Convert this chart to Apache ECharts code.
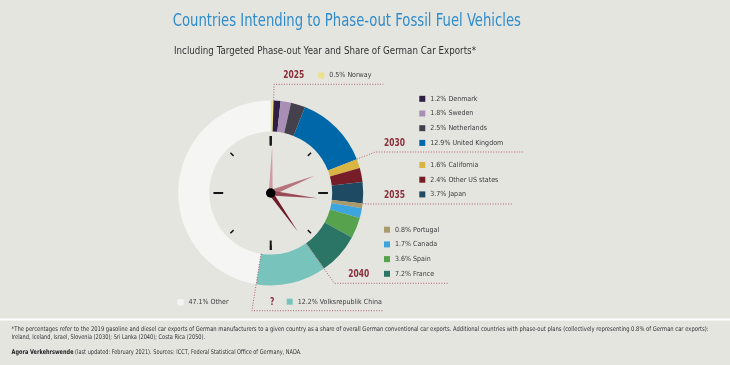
<!DOCTYPE html>
<html><head><meta charset="utf-8">
<script src="https://cdn.jsdelivr.net/npm/echarts@6/dist/echarts.min.js"></script>
<style>html,body{margin:0;padding:0;background:#e5e5e0}#c{width:730px;height:365px}</style>
</head><body><div id="c"></div>
<script>
// ---- data ----
const countries = ['Norway','Denmark','Sweden','Netherlands','United Kingdom','California','Other US states','Japan','Portugal','Canada','Spain','France','Volksrepublik China','Other'];
const shares = [0.5,1.2,1.8,2.5,12.9,1.6,2.4,3.7,0.8,1.7,3.6,7.2,12.2,47.1];
const phaseOutYear = ['2025','2030','2030','2030','2030','2035','2035','2035','2040','2040','2040','2040','?',''];
const colors = ['#efe08c','#2e1f44','#a98fb6','#44414c','#0068a8','#d9b543','#761d28','#1e4a63','#ab9a6a','#3da5de','#57a24c','#2a7565','#79c3bd','#f5f5f3'];
const yearLabels = ['2025','2030','2035','2040','?'];
const handColors = ['#d09ca3','#b8747e','#9b4b58','#6e1b28'];
const titleText = 'Countries Intending to Phase-out Fossil Fuel Vehicles';
const subtitleText = 'Including Targeted Phase-out Year and Share of German Car Exports*';
const note1 = '*The percentages refer to the 2019 gasoline and diesel car exports of German manufacturers to a given country as a share of overall German conventional car exports. Additional countries with phase-out plans (collectively representing 0.8% of German car exports):';
const note2 = 'Ireland, Iceland, Israel, Slovenia (2030); Sri Lanka (2040); Costa Rica (2050).';
const sourceBold = 'Agora Verkehrswende';
const sourceRest = ' (last updated: February 2021). Sources: ICCT, Federal Statistical Office of Germany, NADA.';

// ---- layout ----
const FONT = "'Liberation Sans Narrow','DejaVu Sans Condensed',sans-serif";
const mctx = document.createElement('canvas').getContext('2d');
function textW(t, font){ mctx.font = font; return mctx.measureText(t).width; }
const cx = 270.7, cy = 193, rIn = 61.5, rOut = 92.5;
const total = shares.reduce((a,b)=>a+b,0);
const cum = []; shares.reduce((a,b,i)=>(cum[i]=a+b),0);
const yearCum = yearLabels.map(y => cum[phaseOutYear.lastIndexOf(y)]);
const leaderStartR = [rOut, rOut, rOut, rIn, rIn];
const leaderY = [84.3, 152, 204, 283.3, 310.7];
const leaderEndX = [383.3, 523, 513, 448.3, 383.3];
const yearLabelPos = [[283.3,75.5],[384,143.2],[384,195.3],[348.3,274.2],[270,302]];
const groupNames = [...yearLabels, ''].map(y => countries.filter((c,i)=>phaseOutYear[i]===y));
const legendPos = [[318.3,70.5],[419.3,93.8],[419.3,160],[384,224.7],[286.7,296.7],[177.5,297.3]];

function fmt(name){ const i = countries.indexOf(name); return shares[i].toFixed(1) + '% ' + name; }
const legendFont = 8.5 * 73 / textW(fmt('United Kingdom'), '8.5px ' + FONT);

const graphics = [];
function fitText(text, font, left, midY, targetW, color){
  const sx = targetW / textW(text, font);
  return {type:'text', z:100, x:left, y:midY, scaleX:sx, originX:0, originY:0,
    style:{text:text, font:font, fill:color, textVerticalAlign:'middle'}};
}
graphics.push({type:'rect', shape:{x:0,y:318.5,width:730,height:2}, style:{fill:'#ffffff'}, z:1});
graphics.push(fitText(titleText, '17px '+FONT, 172.7, 22, 348.3, '#2f8ccb'));
graphics.push(fitText(subtitleText, '10.5px '+FONT, 174, 51.7, 302, '#333'));
const noteFont = '6.5px ' + FONT;
graphics.push(fitText(note1, noteFont, 11.6, 329.3, 697, '#333'));
graphics.push(fitText(note2, noteFont, 11.6, 337.7, 193.5, '#333'));
const srcW = textW(sourceBold, 'bold 6.5px '+FONT) + textW(sourceRest, noteFont);
graphics.push({type:'text', z:100, x:11.6, y:352.3, scaleX:290/srcW,
  style:{text:'{b|'+sourceBold+'}{n|'+sourceRest+'}', textVerticalAlign:'middle',
    rich:{b:{font:'bold 6.5px '+FONT, fill:'#222'}, n:{font:noteFont, fill:'#333'}}}});

yearLabels.forEach((y,i) => {
  const th = yearCum[i] / total * Math.PI * 2;
  const s = Math.sin(th), c = Math.cos(th);
  const p0 = [cx + leaderStartR[i]*s, cy - leaderStartR[i]*c];
  const r = (cy - leaderY[i]) / c;
  const p1 = [cx + r*s, leaderY[i]];
  const p2 = [leaderEndX[i], leaderY[i]];
  graphics.push({type:'polyline', z:100, shape:{points:[p0,p1,p2]}, style:{stroke:'#ad5e6a', lineWidth:1, lineDash:[1,1.6], fill:null}});
  const yf = 'bold 11px ' + FONT;
  const sx = 21 / textW('2025', yf);
  graphics.push({type:'text', z:100, x:yearLabelPos[i][0], y:yearLabelPos[i][1], scaleX:sx,
    style:{text:y, fill:'#8b2d3a', font:yf, textVerticalAlign:'middle'}});
});

const base = {type:'gauge', center:[cx,cy], radius:57, startAngle:90, endAngle:-270, min:0, max:total, silent:true,
  axisLine:{show:false,lineStyle:{width:0}}, splitLine:{show:false}, axisTick:{show:false}, axisLabel:{show:false},
  detail:{show:false}, title:{show:false}, animation:false};
const series = [
  {type:'pie', center:[cx,cy], radius:[rIn,rOut], startAngle:90, clockwise:true, silent:true, animation:false,
   label:{show:false}, labelLine:{show:false}, itemStyle:{borderWidth:0},
   data: countries.map((n,i)=>({name:n, value:shares[i], itemStyle:{color:colors[i]}}))},
  Object.assign({}, base, {splitNumber:4,
   splitLine:{show:true, length:9.5, distance:0, lineStyle:{color:'#151515', width:2}},
   axisTick:{show:true, splitNumber:2, length:4.5, distance:0, lineStyle:{color:'#151515', width:1.5}},
   pointer:{show:false}, data:[{value:0}]})
];
const handWidths = [4, 6, 5, 4.5];
yearCum.slice(0,4).forEach((v,i) => {
  series.push(Object.assign({}, base, {
    pointer:{show:true, icon:'path://M0,1L0.5,0L1,1Z', length:47, width:handWidths[i], itemStyle:{color:handColors[i]}},
    anchor: i===3 ? {show:true, showAbove:true, size:9.5, itemStyle:{color:'#000'}} : {show:false},
    data:[{value:v}]}));
});

const legends = groupNames.map((g,i)=>({data:g, left:legendPos[i][0], top:legendPos[i][1], orient:'vertical', icon:'rect',
  itemWidth:6, itemHeight:6, itemGap:4.7, padding:0, selectedMode:false, formatter:fmt,
  textStyle:{fontFamily:FONT, fontSize:legendFont, lineHeight:10, color:'#3a3a3a'}}));

const chart = echarts.init(document.getElementById('c'), null, {renderer:'canvas'});
chart.setOption({
  backgroundColor:'#e5e5e0',
  legend: legends,
  graphic: graphics,
  series: series
});
</script></body></html>
